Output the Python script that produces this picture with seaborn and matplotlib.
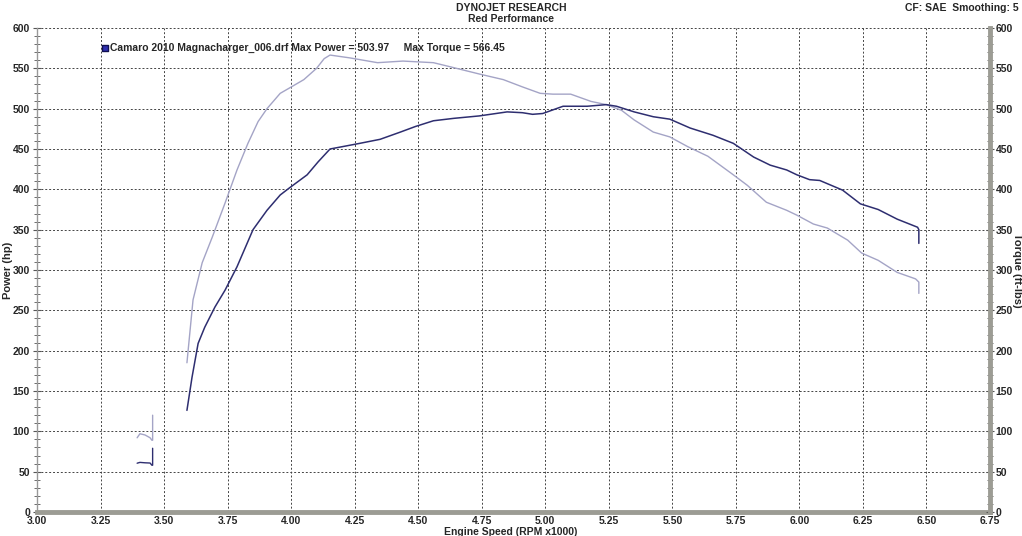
import numpy as np
import pandas as pd
import seaborn as sns
import matplotlib.pyplot as plt
from matplotlib.ticker import MultipleLocator

# early short pull (3.39 - 3.46 krpm)
low_power_rpm = [3.394, 3.405, 3.425, 3.445, 3.452, 3.455, 3.455]
low_power_hp = [60.5, 61.5, 61.0, 60.7, 58.0, 58.0, 79.0]
low_torque_rpm = [3.394, 3.405, 3.425, 3.445, 3.452, 3.455, 3.455]
low_torque_ft = [92.0, 97.0, 95.5, 92.0, 89.0, 89.0, 120.0]

# main pull
power_rpm = [3.59, 3.61, 3.634, 3.66, 3.70, 3.74, 3.787, 3.85, 3.905, 3.957, 3.99,
             4.063, 4.106, 4.153, 4.22, 4.27, 4.35, 4.43, 4.49, 4.56, 4.64, 4.74,
             4.85, 4.91, 4.95, 4.99, 5.07, 5.165, 5.24, 5.28, 5.35, 5.425, 5.49,
             5.57, 5.66, 5.74, 5.82, 5.885, 5.95, 5.99, 6.04, 6.08, 6.17, 6.24,
             6.31, 6.385, 6.465, 6.47, 6.47]
power_hp = [126, 167, 209, 229, 254, 275, 304, 350, 374, 393, 401,
            418, 434, 450, 454, 457, 462, 471, 478, 485, 488, 491,
            496, 495, 493, 494, 503, 503, 505, 503, 496, 490, 487,
            476, 467, 457, 440, 430, 424, 418, 412, 411, 399, 382,
            375, 363, 353, 350, 333]
torque_rpm = [3.59, 3.614, 3.65, 3.69, 3.74, 3.787, 3.83, 3.87, 3.905, 3.957, 3.99,
              4.05, 4.10, 4.13, 4.153, 4.23, 4.34, 4.44, 4.56, 4.625, 4.74, 4.835,
              4.91, 4.98, 5.03, 5.10, 5.18, 5.24, 5.30, 5.35, 5.425, 5.49, 5.56,
              5.64, 5.74, 5.795, 5.87, 5.95, 5.99, 6.055, 6.11, 6.19, 6.245, 6.31,
              6.385, 6.457, 6.47, 6.47]
torque_ft = [185, 263, 309, 341, 383, 424, 457, 484, 500, 519, 525,
             536, 550, 562, 566.45, 563, 557, 559, 557, 552, 543, 536,
             527, 519, 518, 518, 509, 505, 498, 486, 471, 465, 453,
             441, 418, 405, 384, 374, 368, 357, 352, 337, 321, 312,
             297, 289, 285, 271]

x_ticks = [3.00, 3.25, 3.50, 3.75, 4.00, 4.25, 4.50, 4.75, 5.00, 5.25, 5.50, 5.75, 6.00, 6.25, 6.50, 6.75]
y_ticks = list(range(0, 601, 50))

power_color = '#2e2e70'
torque_color = '#a4a4c6'

sns.set_style('white')
plt.rcParams['font.family'] = ['Liberation Sans Narrow', 'Liberation Sans', 'DejaVu Sans']
plt.rcParams['font.weight'] = 'bold'

fig = plt.figure(figsize=(10.22, 5.36), dpi=100)
ax = fig.add_axes([37 / 1022, 24 / 536, 953 / 1022, 484 / 536])

for xs, ys, c, lw in [(low_torque_rpm, low_torque_ft, torque_color, 1.0),
                      (low_power_rpm, low_power_hp, power_color, 1.0),
                      (torque_rpm, torque_ft, torque_color, 1.0),
                      (power_rpm, power_hp, power_color, 1.1)]:
    df = pd.DataFrame({'rpm': xs, 'val': ys})
    sns.lineplot(data=df, x='rpm', y='val', ax=ax, color=c, linewidth=lw,
                 estimator=None, sort=False)

ax.set_xlim(3.0, 6.75)
ax.set_ylim(0, 600)
ax.set_xticks(x_ticks)
ax.set_xticklabels([f'{t:.2f}' for t in x_ticks])
ax.set_yticks(y_ticks)
ax.xaxis.set_minor_locator(MultipleLocator(0.05))
ax.yaxis.set_minor_locator(MultipleLocator(10))
ax.grid(True, which='major', color='#444444', linestyle=(0, (2, 2)), linewidth=0.7)
ax.tick_params(axis='both', which='major', labelsize=7.5, length=6, direction='inout', color='#555555')
ax.tick_params(axis='both', which='minor', length=4, direction='inout', color='#555555')
ax.tick_params(axis='x', pad=0)
ax.tick_params(axis='y', pad=2)

ax.spines['top'].set_visible(False)
ax.spines['right'].set_visible(False)
ax.spines['left'].set_color('#999999')
ax.spines['left'].set_linewidth(1.0)
ax.spines['bottom'].set_color('#9c9c94')
ax.spines['bottom'].set_linewidth(3.5)

ax.set_xlabel('Engine Speed (RPM x1000)', fontsize=7.5, fontweight='bold')
ax.xaxis.set_label_coords(474 / 953, -15 / 484)
ax.set_ylabel('Power (hp)', fontsize=8, fontweight='bold')
ax.yaxis.set_label_coords(-29 / 953, 0.5)
ax.yaxis.label.set_va('center')

ax2 = ax.twinx()
ax2.set_ylim(0, 600)
ax2.set_yticks(y_ticks)
ax2.yaxis.set_minor_locator(MultipleLocator(10))
ax2.tick_params(axis='y', which='major', labelsize=7.5, length=6, direction='inout', color='#555555', pad=1)
ax2.tick_params(axis='y', which='minor', length=4, direction='inout', color='#555555')
for s in ['top', 'left', 'bottom']:
    ax2.spines[s].set_visible(False)
ax2.spines['right'].set_color('#9c9c94')
ax2.spines['right'].set_linewidth(3.5)
ax2.set_ylabel('Torque (ft-lbs)', fontsize=8, fontweight='bold', rotation=-90)
ax2.yaxis.set_label_coords(1 + 27 / 953, 0.5)
ax2.yaxis.label.set_va('center')
ax2.grid(False)

fig.text(0.5, 1 - 8 / 536, 'DYNOJET RESEARCH', ha='center', va='center', fontsize=7.5, fontweight='bold')
fig.text(0.5, 1 - 19 / 536, 'Red Performance', ha='center', va='center', fontsize=7.5, fontweight='bold')
fig.text(1 - 3 / 1022, 1 - 8 / 536, 'CF: SAE  Smoothing: 5', ha='right', va='center', fontsize=7.5, fontweight='bold')

# legend entry
ax.scatter([0.0717], [0.958], marker='s', s=22, color='#3030b0', edgecolor='#101050',
           transform=ax.transAxes, clip_on=False, zorder=5)
ax.text(0.077, 0.958, 'Camaro 2010 Magnacharger_006.drf Max Power = 503.97     Max Torque = 566.45',
        transform=ax.transAxes, ha='left', va='center', fontsize=7.5, fontweight='bold')

fig.savefig('out.png', dpi=100)
